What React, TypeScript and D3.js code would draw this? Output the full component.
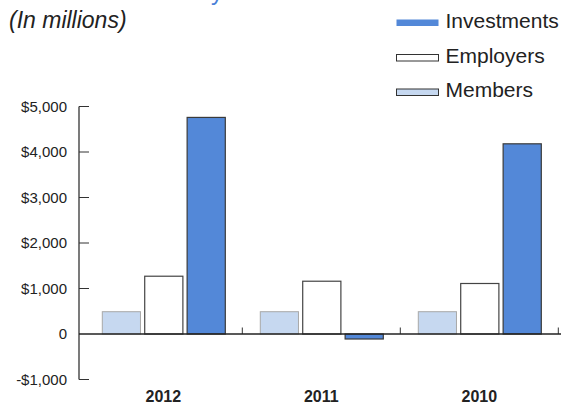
import React from "react";
import * as d3 from "d3";

const categories = ["2012", "2011", "2010"];
const seriesNames = ["Members", "Employers", "Investments"];
const members = [490, 490, 490];
const employers = [1270, 1160, 1110];
const investments = [4760, -110, 4180];
const tickValues = [5000, 4000, 3000, 2000, 1000, 0, -1000];
const tickLabels = ["$5,000", "$4,000", "$3,000", "$2,000", "$1,000", "0", "-$1,000"];
const legendOrder = ["Investments", "Employers", "Members"];

const W = 561;
const H = 404;
const FONT = "'Liberation Sans', Arial, Helvetica, sans-serif";

const fills: Record<string, string> = {
  Members: "#c6d8f0",
  Employers: "#ffffff",
  Investments: "#5388d8",
};
const strokes: Record<string, string> = {
  Members: "#a8a8a8",
  Employers: "#444444",
  Investments: "#3a3a3a",
};

export default function App() {
  const values: Record<string, number[]> = {
    Members: members,
    Employers: employers,
    Investments: investments,
  };
  const y = d3.scaleLinear().domain([-1000, 5000]).range([379.5, 106.5]);
  const x = d3.scaleBand<string>().domain(categories).range([84.3, 558.3]).padding(0);
  const inner = d3.scaleBand<string>().domain(seriesNames).range([18, 141]).paddingInner(0.1).paddingOuter(0);
  const axisX = 79;
  const zeroY = y(0);

  return (
    <svg
      width={W}
      height={H}
      style={{ position: "fixed", left: 0, top: 0, background: "#fff" }}
      fontFamily={FONT}
    >
      <rect x={0} y={0} width={W} height={H} fill="#fff" />
      {/* cut-off title glyph */}
      <text x={211} y={0} fontSize={24} fill="#4a80d8">y</text>
      <text x={9} y={28} fontSize={23} fontStyle="italic" fill="#222">(In millions)</text>

      {/* legend */}
      {legendOrder.map((name, i) => {
        const base = [27.5, 62.5, 97][i];
        return (
          <g key={name}>
            <rect
              x={396.5}
              y={base - 8}
              width={42}
              height={6.5}
              fill={fills[name]}
              stroke={name === "Investments" ? "none" : "#333"}
              strokeWidth={1}
            />
            <text x={445.5} y={base} fontSize={21} fill="#222">{name}</text>
          </g>
        );
      })}

      {/* bars */}
      {categories.map((c, ci) => (
        <g key={c}>
          {seriesNames.map((s) => {
            const v = values[s][ci];
            const x0 = (x(c) as number) + (inner(s) as number);
            const top = Math.min(y(v), zeroY);
            const h = Math.abs(y(v) - zeroY);
            return (
              <rect
                key={s}
                x={x0}
                y={top}
                width={inner.bandwidth()}
                height={h}
                fill={fills[s]}
                stroke={strokes[s]}
                strokeWidth={s === "Members" ? 1 : 1.2}
              />
            );
          })}
          <line
            x1={(x(c) as number) + x.bandwidth()}
            x2={(x(c) as number) + x.bandwidth()}
            y1={zeroY}
            y2={zeroY - 6.5}
            stroke="#333"
            strokeWidth={1}
          />
          <text
            x={(x(c) as number) + x.bandwidth() / 2}
            y={401.5}
            fontSize={16}
            fontWeight="bold"
            textAnchor="middle"
            fill="#222"
          >
            {c}
          </text>
        </g>
      ))}

      {/* zero line */}
      <line x1={axisX} x2={W} y1={zeroY} y2={zeroY} stroke="#222" strokeWidth={1.4} />

      {/* y axis */}
      <line x1={axisX} x2={axisX} y1={y(5000)} y2={y(-1000)} stroke="#222" strokeWidth={1.2} />
      {tickValues.map((v, i) => (
        <g key={v}>
          {v !== 0 && (
            <line x1={axisX} x2={axisX + 10} y1={y(v)} y2={y(v)} stroke="#333" strokeWidth={1} />
          )}
          <text
            x={67}
            y={y(v)}
            dy="0.35em"
            fontSize={15}
            textAnchor="end"
            fill="#222"
          >
            {tickLabels[i]}
          </text>
        </g>
      ))}
    </svg>
  );
}
